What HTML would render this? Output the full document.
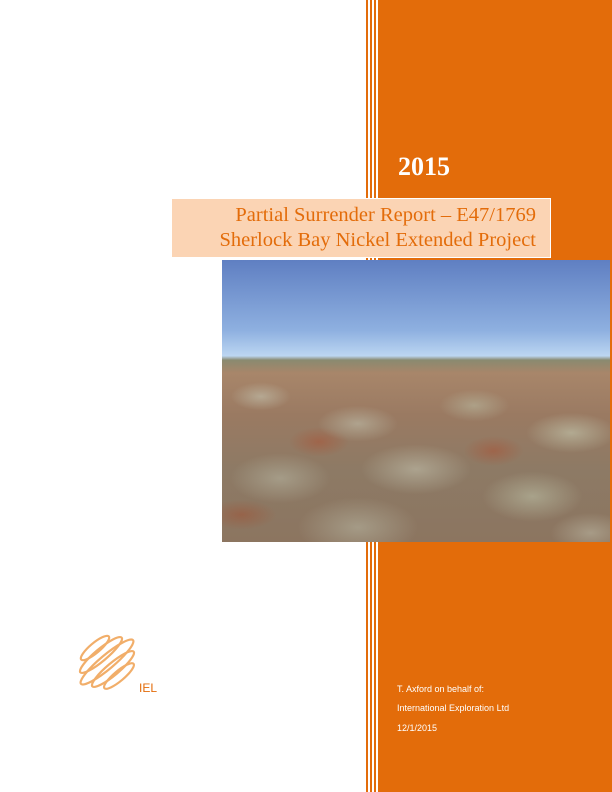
<!DOCTYPE html>
<html><head><meta charset="utf-8"><style>
body{margin:0;width:612px;height:792px;position:relative;background:#fff;overflow:hidden;font-family:"Liberation Sans",sans-serif}
.a{position:absolute}
</style></head><body>
<div class="a" style="left:378px;top:0;width:234px;height:792px;background:#E36C0A"></div>
<div class="a" style="left:366px;top:0;width:1.5px;height:792px;background:#E36C0A"></div>
<div class="a" style="left:370px;top:0;width:1.5px;height:792px;background:#E36C0A"></div>
<div class="a" style="left:374px;top:0;width:1.5px;height:792px;background:#E36C0A"></div>
<div class="a" style="left:398px;top:152px;font:bold 26px 'Liberation Serif',serif;color:#fff">2015</div>
<div class="a" style="left:171px;top:198px;width:380px;height:60px;background:#FBD4B4;border:1px solid #fff;box-sizing:border-box"></div>
<div class="a" style="left:172px;top:203px;width:364px;text-align:right;font:20.5px/25px 'Liberation Serif',serif;color:#E36C0A">Partial Surrender Report – E47/1769<br>Sherlock Bay Nickel Extended Project</div>
<div class="a" style="left:222px;top:260px;width:388px;height:282px;overflow:hidden;background:linear-gradient(#5f7fc2 0%,#8eb0e0 25%,#bcd6f2 34%,#8a8a70 35.5%,#a8866a 40%,#9a7a62 55%,#8d7a65 75%,#8c7560 100%)">
<div class="a" style="left:0;top:100px;width:388px;height:182px;background:
radial-gradient(ellipse 30px 14px at 10% 20%,rgba(190,185,165,.7),transparent),
radial-gradient(ellipse 40px 18px at 35% 35%,rgba(185,180,160,.7),transparent),
radial-gradient(ellipse 35px 16px at 65% 25%,rgba(180,175,150,.7),transparent),
radial-gradient(ellipse 45px 20px at 90% 40%,rgba(190,190,165,.7),transparent),
radial-gradient(ellipse 50px 25px at 15% 65%,rgba(175,170,150,.7),transparent),
radial-gradient(ellipse 55px 25px at 50% 60%,rgba(185,180,160,.7),transparent),
radial-gradient(ellipse 50px 25px at 80% 75%,rgba(180,180,155,.7),transparent),
radial-gradient(ellipse 60px 30px at 35% 92%,rgba(175,170,150,.7),transparent),
radial-gradient(ellipse 40px 20px at 95% 95%,rgba(185,180,160,.6),transparent),
radial-gradient(ellipse 30px 15px at 25% 45%,rgba(170,80,50,.5),transparent),
radial-gradient(ellipse 30px 15px at 70% 50%,rgba(170,80,50,.5),transparent),
radial-gradient(ellipse 35px 15px at 5% 85%,rgba(160,80,50,.5),transparent)"></div>
</div>
<svg class="a" style="left:74px;top:628px" width="66" height="68" viewBox="0 0 66 68">
<g fill="none" stroke="#EE9A45" stroke-width="2.2" opacity=".8">
<ellipse cx="33" cy="34" rx="34" ry="7" transform="rotate(-40 33 34)"/>
<ellipse cx="27" cy="27" rx="27" ry="6" transform="rotate(-40 27 27)"/>
<ellipse cx="39" cy="41" rx="27" ry="6" transform="rotate(-40 39 41)"/>
<ellipse cx="21" cy="20" rx="18" ry="5" transform="rotate(-40 21 20)"/>
<ellipse cx="45" cy="48" rx="19" ry="5" transform="rotate(-40 45 48)"/>
</g></svg>
<div class="a" style="left:139px;top:681px;font-size:12px;color:#E36C0A">IEL</div>
<div class="a" style="left:397px;top:684px;font-size:9px;color:#fff">T. Axford on behalf of:</div>
<div class="a" style="left:397px;top:703px;font-size:9px;color:#fff">International Exploration Ltd</div>
<div class="a" style="left:397px;top:723px;font-size:9px;color:#fff">12/1/2015</div>
</body></html>
